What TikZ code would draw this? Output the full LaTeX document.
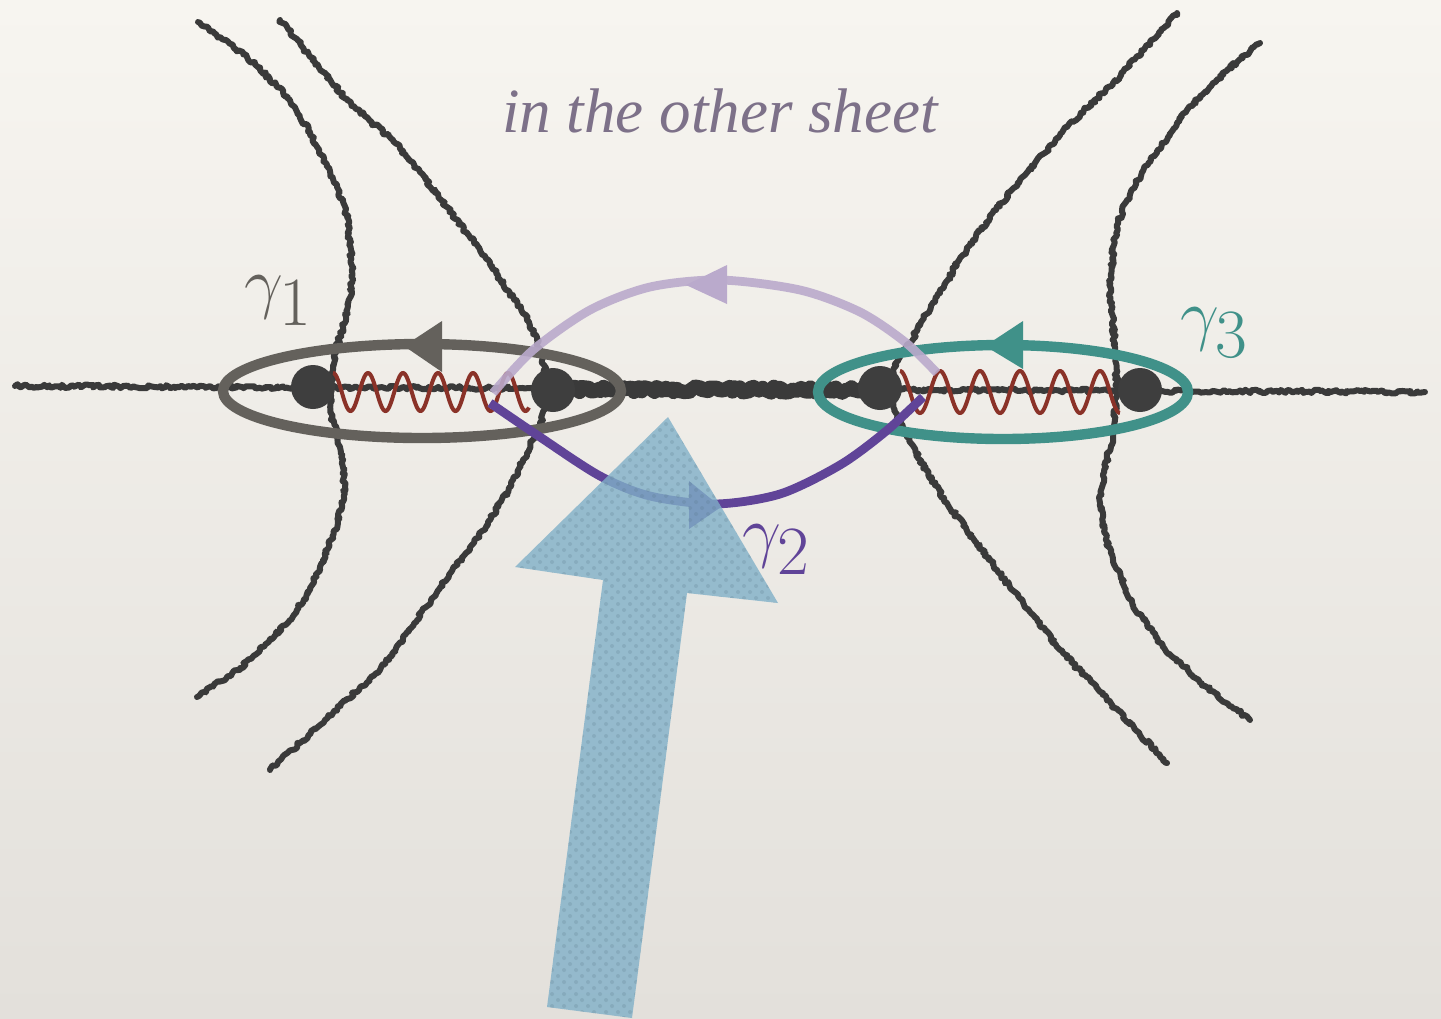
\documentclass[tikz,border=0pt]{standalone}
\usepackage{fontspec}
\newfontfamily\txtfont{Liberation Serif}
\usetikzlibrary{decorations.pathmorphing,patterns}
\definecolor{bgtop}{RGB}{247,245,240}
\definecolor{bgbot}{RGB}{227,224,219}
\definecolor{ink}{RGB}{58,58,58}
\definecolor{dotc}{RGB}{62,62,62}
\definecolor{gcol}{RGB}{100,97,92}
\definecolor{tcol}{RGB}{64,145,137}
\definecolor{lpur}{RGB}{186,170,204}
\definecolor{dpur}{RGB}{96,68,152}
\definecolor{wred}{RGB}{138,50,40}
\definecolor{blu}{RGB}{128,176,200}
\definecolor{txtc}{RGB}{125,113,137}
% 1 px of the reference = 0.25pt
\tikzset{
  rough/.style={draw=ink, line width=1.5pt, line cap=round, line join=round,
    decorate, decoration={random steps, segment length=0.6pt, amplitude=0.45pt}},
  wavy/.style={draw=wred, line width=1pt},
  lbl/.style={inner sep=0pt, anchor=base west, font=\fontsize{16}{17}\selectfont},
}
\begin{document}
\begin{tikzpicture}[x=0.25pt,y=-0.25pt]
\pgfmathsetseed{7}
\shade[top color=bgtop, bottom color=bgbot] (0,0) rectangle (1441,1018);
\useasboundingbox (0,0) rectangle (1441,1018);
\clip (0,0) rectangle (1441,1018);

% text
\node[text=txtc, inner sep=0pt, anchor=base, font=\txtfont\itshape\fontsize{15.75}{17}\selectfont] (title) at (720,132) {in the other sheet};

% black curves (polylines)
\draw[rough] (198,22) -- (222,39) -- (247,57) -- (270,79) -- (290,100) -- (310,132) -- (327,167) -- (339,192) -- (347,217) -- (351,250) -- (352,283) -- (348,306) -- (343,327) -- (336,350) -- (333,370) -- (330,392) -- (331,413) -- (340,447) -- (345,487) -- (341,510) -- (335,530) -- (323,560) -- (310,590) -- (290,620) -- (265,645) -- (240,668) -- (197,697);
\draw[rough] (280,20) -- (315,62) -- (347,100) -- (370,121) -- (393,140) -- (420,172) -- (447,207) -- (480,250) -- (510,293) -- (526,316) -- (537,340) -- (544,365) -- (547,390) -- (545,408) -- (540,425) -- (527,453) -- (510,487) -- (490,520) -- (466,553) -- (440,587) -- (411,628) -- (380,670) -- (325,720) -- (270,770);
\draw[rough] (1177,13) -- (1144,50) -- (1113,83) -- (1067,127) -- (1020,180) -- (996,210) -- (973,240) -- (955,267) -- (940,293) -- (924,318) -- (910,343) -- (900,357) -- (893,370) -- (890,395) -- (897,417) -- (907,437) -- (926,470) -- (947,503) -- (972,537) -- (997,570) -- (1030,612) -- (1063,653) -- (1115,708) -- (1167,763);
\draw[rough] (1260,43) -- (1237,62) -- (1213,83) -- (1186,112) -- (1163,143) -- (1143,171) -- (1127,200) -- (1117,225) -- (1113,250) -- (1110,293) -- (1115,347) -- (1117,393) -- (1113,437) -- (1104,470) -- (1100,503) -- (1104,532) -- (1113,560) -- (1133,605) -- (1163,647) -- (1205,686) -- (1250,720);

% horizontal cut
\coordinate (hl) at (15,386);
\coordinate (hr) at (1425,392);
\draw[rough, line width=1.5pt] (hl) -- (hr);
\draw[rough, line width=3.6pt, decoration={random steps, segment length=0.75pt, amplitude=0.7pt}] (562,389) -- (872,390);

% branch points
\coordinate (d1) at (313,387);
\coordinate (d2) at (553,390);
\coordinate (d3) at (880,388);
\coordinate (d4) at (1140,390);
\foreach \p in {d1,d2,d3,d4} \fill[dotc] (\p) circle[radius=5.5pt];

% wavy cuts
\draw[wavy] plot[domain=0:5.6, samples=300, smooth] ({333+35*\x},{392-19*cos(360*\x)});
\draw[wavy] plot[domain=0:5.5, samples=300, smooth] ({900+40*\x},{392-21*cos(360*\x)});

% gamma_1 ellipse
\draw[gcol, line width=2.6pt] (422,391) ellipse[x radius=49.75pt, y radius=11.75pt];
\fill[gcol] (404,346) -- (442,321) -- (442,372) -- cycle;
% gamma_3 ellipse
\draw[tcol, line width=2.6pt] (1003,392) ellipse[x radius=46.25pt, y radius=11.75pt];
\fill[tcol] (985,346) -- (1023,321) -- (1023,369) -- cycle;

% gamma_2
\draw[lpur, line width=2.2pt, opacity=0.9] plot[smooth] coordinates {(493,393) (533,350) (590,310) (650,287) (720,280) (800,290) (860,312) (905,342) (937,373)};
\fill[lpur] (686,285) -- (727,265) -- (727,304) -- cycle;
\draw[dpur, line width=2.2pt] plot[smooth] coordinates {(490,403) (540,437) (600,476) (650,496) (715,504) (780,494) (840,465) (885,432) (923,397)};
\fill[dpur] (721,507) -- (689,481) -- (689,529) -- cycle;

% big arrow
\fill[blu, opacity=0.8] (668,417) -- (778,603) -- (687,593) -- (632,1018) -- (547,1007) -- (603,580) -- (515,567) -- cycle;
\fill[pattern=crosshatch dots, pattern color=blu!65!black, opacity=0.2] (668,417) -- (778,603) -- (687,593) -- (632,1018) -- (547,1007) -- (603,580) -- (515,567) -- cycle;

% labels
\node[lbl, text=gcol] (g1) at (244,305) {$\gamma_{\textstyle 1}$};
\node[lbl, text=tcol] (g3) at (1180,337) {$\gamma_{\textstyle 3}$};
\node[lbl, text=dpur] (g2) at (742,554) {$\gamma_{\textstyle 2}$};
\end{tikzpicture}
\end{document}
